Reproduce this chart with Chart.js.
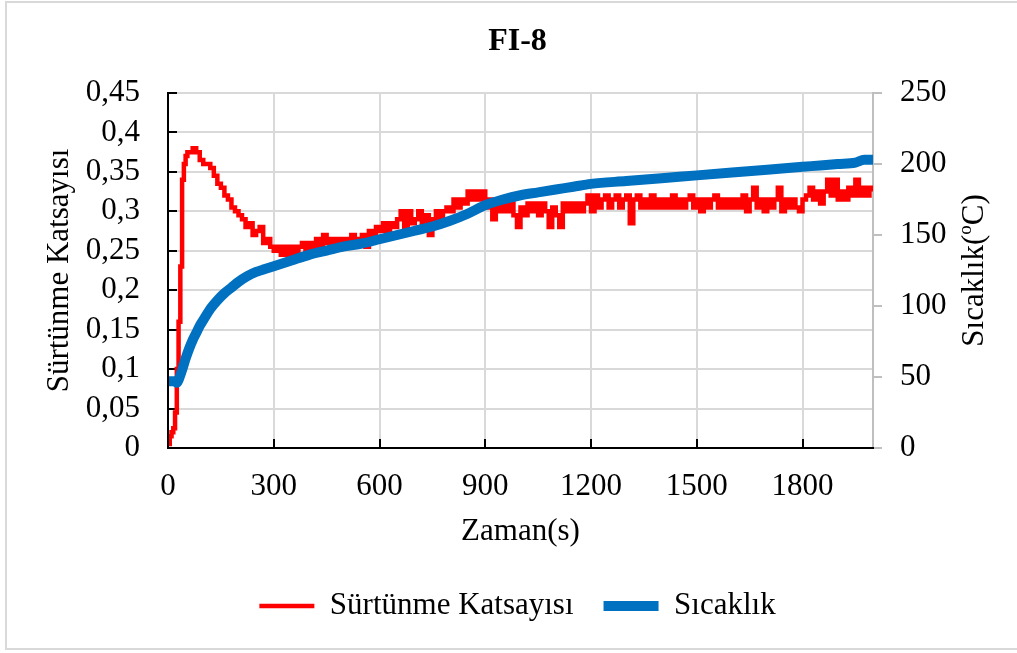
<!DOCTYPE html>
<html>
<head>
<meta charset="utf-8">
<title>FI-8</title>
<script src="https://cdn.jsdelivr.net/npm/chart.js@4.4.1/dist/chart.umd.min.js"></script>
<style>
  body { margin: 0; background: #fff; }
  #wrap { position: relative; width: 1017px; height: 653px; overflow: hidden; background: #fff; }
  #frame { position: absolute; left: 5px; top: 1px; width: 1040px; height: 645px; border: 2px solid #d9d9d9; }
  #chart { position: absolute; left: 0; top: 0; }
</style>
</head>
<body>
<div id="wrap">
  <div id="frame"></div>
  <canvas id="chart" width="1017" height="653"></canvas>
</div>
<script>
// friction coefficient (5 s steps during the run-in, then every 10 s)
var fricTime = [
  0, 5, 10, 15, 20, 25, 30, 35, 40, 45, 50, 55,
  60, 70, 80, 90,
  100, 110, 120, 130, 140, 150, 160, 170, 180, 190,
  200, 210, 220, 230, 240, 250, 260, 270, 280, 290,
  300, 310, 320, 330, 340, 350, 360, 370, 380, 390,
  400, 410, 420, 430, 440, 450, 460, 470, 480, 490,
  500, 510, 520, 530, 540, 550, 560, 570, 580, 590,
  600, 610, 620, 630, 640, 650, 660, 670, 680, 690,
  700, 710, 720, 730, 740, 750, 760, 770, 780, 790,
  800, 810, 820, 830, 840, 850, 860, 870, 880, 890,
  900, 910, 920, 930, 940, 950, 960, 970, 980, 990,
  1000, 1010, 1020, 1030, 1040, 1050, 1060, 1070, 1080, 1090,
  1100, 1110, 1120, 1130, 1140, 1150, 1160, 1170, 1180, 1190,
  1200, 1210, 1220, 1230, 1240, 1250, 1260, 1270, 1280, 1290,
  1300, 1310, 1320, 1330, 1340, 1350, 1360, 1370, 1380, 1390,
  1400, 1410, 1420, 1430, 1440, 1450, 1460, 1470, 1480, 1490,
  1500, 1510, 1520, 1530, 1540, 1550, 1560, 1570, 1580, 1590,
  1600, 1610, 1620, 1630, 1640, 1650, 1660, 1670, 1680, 1690,
  1700, 1710, 1720, 1730, 1740, 1750, 1760, 1770, 1780, 1790,
  1800, 1810, 1820, 1830, 1840, 1850, 1860, 1870, 1880, 1890,
  1900, 1910, 1920, 1930, 1940, 1950, 1960, 1970, 1980, 1990,
  2000
];
var fricValue = [
  0.005, 0.015, 0.02, 0.025, 0.045, 0.10, 0.16, 0.23, 0.34, 0.36, 0.37, 0.375,
  0.375, 0.38, 0.375, 0.365,
  0.36, 0.36, 0.355, 0.345, 0.335, 0.33, 0.32, 0.315, 0.305, 0.30,
  0.295, 0.29, 0.28, 0.285, 0.27, 0.275, 0.28, 0.26, 0.265, 0.255,
  0.25, 0.255, 0.245, 0.255, 0.245, 0.255, 0.245, 0.255, 0.26, 0.25,
  0.26, 0.255, 0.265, 0.255, 0.27, 0.26, 0.265, 0.255, 0.265, 0.26,
  0.265, 0.26, 0.27, 0.26, 0.265, 0.27, 0.255, 0.275, 0.27, 0.28,
  0.275, 0.285, 0.275, 0.285, 0.28, 0.29, 0.30, 0.28, 0.30, 0.285,
  0.29, 0.30, 0.285, 0.295, 0.27, 0.29, 0.30, 0.29, 0.30, 0.305,
  0.30, 0.315, 0.305, 0.315, 0.31, 0.325, 0.315, 0.325, 0.315, 0.325,
  0.305, 0.315, 0.29, 0.31, 0.30, 0.31, 0.30, 0.31, 0.295, 0.28,
  0.305, 0.295, 0.31, 0.30, 0.31, 0.295, 0.31, 0.30, 0.28, 0.305,
  0.295, 0.28, 0.31, 0.30, 0.31, 0.30, 0.31, 0.30, 0.31, 0.32,
  0.30, 0.32, 0.305, 0.315, 0.32, 0.305, 0.315, 0.32, 0.305, 0.315,
  0.32, 0.285, 0.315, 0.32, 0.305, 0.315, 0.305, 0.32, 0.305, 0.315,
  0.305, 0.315, 0.305, 0.32, 0.305, 0.315, 0.305, 0.315, 0.32, 0.305,
  0.315, 0.30, 0.315, 0.305, 0.315, 0.32, 0.305, 0.315, 0.305, 0.315,
  0.305, 0.315, 0.305, 0.32, 0.30, 0.315, 0.33, 0.305, 0.315, 0.30,
  0.315, 0.305, 0.315, 0.33, 0.30, 0.315, 0.305, 0.315, 0.305, 0.30,
  0.315, 0.32, 0.33, 0.315, 0.325, 0.31, 0.325, 0.34, 0.32, 0.34,
  0.315, 0.325, 0.315, 0.33, 0.32, 0.34, 0.32, 0.33, 0.32, 0.33,
  0.325
];

// temperature (°C)
var tempTime = [0, 20, 25, 30, 40, 50, 60, 70, 80, 90, 100, 120, 140, 160, 180, 200,
  225, 250, 275, 300, 350, 400, 450, 500, 550, 600, 650, 700, 750, 800, 850, 900,
  950, 1000, 1050, 1100, 1150, 1200, 1300, 1400, 1500, 1600, 1700, 1800, 1850,
  1900, 1950, 1975, 2000];
var tempValue = [47, 47, 46, 48, 55, 63, 70, 76, 81, 86, 90, 98, 104, 109, 113, 117,
  121, 124, 126, 128, 132, 136, 139, 142, 144, 147, 150, 153, 156, 160, 165, 171,
  175, 178, 180, 182, 184, 186, 188, 190, 192, 194, 196, 198, 199,
  200, 201, 203, 203];

var leftTickLabels = ['0', '0,05', '0,1', '0,15', '0,2', '0,25', '0,3', '0,35', '0,4', '0,45'];
var rightTickLabels = ['0', '50', '100', '150', '200', '250'];
var xTickLabels = ['0', '300', '600', '900', '1200', '1500', '1800'];

var serif = "'Liberation Serif', 'Times New Roman', serif";
Chart.defaults.font.family = serif;
Chart.defaults.color = '#000';

// right axis title reads bottom-to-top with a superscript o
var rightTitle = {
  id: 'rightTitle',
  afterDraw: function(chart) {
    var ctx = chart.ctx;
    var s = chart.scales.yTemp;
    var cx = s.right - 42;
    var cy = (s.top + s.bottom) / 2;
    var big = '31px ' + serif, small = '19px ' + serif;
    ctx.save();
    ctx.translate(cx, cy);
    ctx.rotate(-Math.PI / 2);
    ctx.fillStyle = '#000';
    ctx.textBaseline = 'middle';
    ctx.textAlign = 'left';
    ctx.font = big;
    var w1 = ctx.measureText('Sıcaklık(').width;
    var w3 = ctx.measureText('C)').width;
    ctx.font = small;
    var w2 = ctx.measureText('o').width;
    var x = -(w1 + w2 + w3) / 2;
    ctx.font = big;
    ctx.fillText('Sıcaklık(', x, 0);
    ctx.font = small;
    ctx.fillText('o', x + w1, -9);
    ctx.font = big;
    ctx.fillText('C)', x + w1 + w2, 0);
    ctx.restore();
  }
};

function pairs(xs, ys) {
  return xs.map(function(x, i) { return { x: x, y: ys[i] }; });
}

var ctx = document.getElementById('chart').getContext('2d');
var myChart = new Chart(ctx, {
  type: 'line',
  data: {
    datasets: [{
      label: 'Sürtünme Katsayısı',
      data: pairs(fricTime, fricValue),
      borderColor: '#ff0000',
      backgroundColor: '#ff0000',
      borderWidth: 4.5,
      pointRadius: 0,
      stepped: true,
      yAxisID: 'y',
      order: 2
    },
    {
      label: 'Sıcaklık',
      data: pairs(tempTime, tempValue),
      borderColor: '#0070c0',
      backgroundColor: '#0070c0',
      borderWidth: 10,
      borderCapStyle: 'round',
      borderJoinStyle: 'round',
      pointRadius: 0,
      cubicInterpolationMode: 'monotone',
      yAxisID: 'yTemp',
      order: 1
    }]
  },
  options: {
    responsive: false,
    animation: false,
    devicePixelRatio: 1,
    layout: {
      padding: { left: 18, top: 0, right: 0, bottom: 21.5 }
    },
    plugins: {
      title: {
        display: true,
        text: 'FI-8',
        font: { size: 32, weight: 'bold' },
        padding: { top: 22.8, bottom: 31.8 }
      },
      legend: {
        position: 'bottom',
        labels: {
          usePointStyle: true,
          pointStyle: 'line',
          pointStyleWidth: 55,
          padding: 30,
          font: { size: 31 },
          sort: function(a, b) { return a.datasetIndex - b.datasetIndex; }
        }
      },
      tooltip: { enabled: false }
    },
    scales: {
      x: {
        type: 'linear',
        min: 0,
        max: 2000,
        afterFit: function(scale) { scale.height = 112.5; },
        ticks: {
          stepSize: 300,
          includeBounds: false,
          autoSkip: false,
          padding: 29,
          font: { size: 31 },
          maxRotation: 0,
          callback: function(value, index) { return xTickLabels[index]; }
        },
        grid: {
          color: '#d9d9d9',
          lineWidth: 2,
          tickColor: '#000',
          tickLength: -9,
          tickWidth: 2
        },
        border: { color: '#000', width: 2, z: 1 },
        title: {
          display: true,
          text: 'Zaman(s)',
          font: { size: 31 },
          padding: { top: 0, bottom: 10 }
        }
      },
      y: {
        position: 'left',
        min: 0,
        max: 0.45,
        afterFit: function(scale) { scale.width = 150; },
        ticks: {
          stepSize: 0.05,
          autoSkip: false,
          padding: 37,
          font: { size: 31 },
          callback: function(value, index) { return leftTickLabels[index]; }
        },
        grid: {
          color: '#d9d9d9',
          lineWidth: 2,
          tickColor: '#000',
          tickLength: -9,
          tickWidth: 2
        },
        border: { color: '#000', width: 2, z: 1 },
        title: {
          display: true,
          text: 'Sürtünme Katsayısı',
          font: { size: 31 },
          padding: { top: 23.4, bottom: 0 }
        }
      },
      yTemp: {
        position: 'right',
        min: 0,
        max: 250,
        afterFit: function(scale) { scale.width = 144; },
        ticks: {
          stepSize: 50,
          autoSkip: false,
          padding: 18,
          font: { size: 31 },
          callback: function(value, index) { return rightTickLabels[index]; }
        },
        grid: {
          drawOnChartArea: false,
          color: '#bfbfbf',
          lineWidth: 2,
          tickLength: 9
        },
        border: { color: '#bfbfbf', width: 2 }
      }
    }
  },
  plugins: [rightTitle]
});
</script>
</body>
</html>
